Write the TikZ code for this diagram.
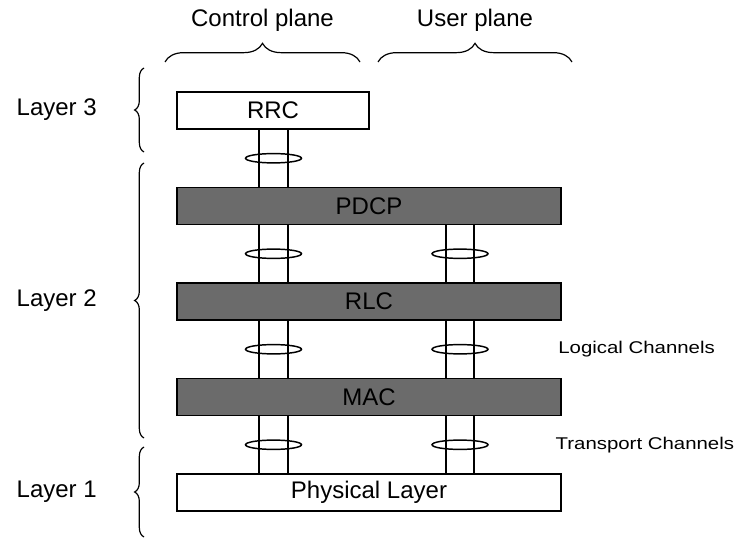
\documentclass[tikz,border=0pt]{standalone}
\usepackage{fontspec}
\setmainfont{Liberation Sans}
\newfontfamily\chanfont[FakeStretch=1.2]{Liberation Sans}
\usetikzlibrary{positioning,calc,shapes.geometric,decorations.pathreplacing}

\begin{document}
\begin{tikzpicture}[x=0.75pt, y=-0.75pt,
    lbl/.style={font=\fontsize{18}{20}\selectfont},
    layerbox/.style={draw, line width=1.2pt, minimum width=288pt, minimum height=28pt, inner sep=0pt, lbl},
    darkbox/.style={layerbox, fill=black!58},
    chan/.style={draw, ellipse, line width=1.1pt, minimum width=42pt, minimum height=7pt, inner sep=0pt},
    chanlbl/.style={inner sep=0pt, font=\chanfont\fontsize{12.75}{14}\selectfont},
    brace/.style={decorate, decoration={brace, amplitude=#1}, line width=0.9pt}]
  \useasboundingbox (0,0) rectangle (742,538);

  % Protocol layers
  \node[layerbox, minimum width=144pt] (rrc) at (273,110.5) {RRC};
  \node[darkbox] (pdcp) at (369,206) {PDCP};
  \node[darkbox] (rlc) at (369,301.5) {RLC};
  \node[darkbox] (mac) at (369,397) {MAC};
  \node[layerbox] (phy) at (369,492.5) {Physical Layer};

  % Pipe columns (control and user plane)
  \coordinate (cp) at (273.5,0);
  \coordinate (cpL) at (259,0);
  \coordinate (cpR) at (288,0);
  \coordinate (up) at (460,0);
  \coordinate (upL) at (446,0);
  \coordinate (upR) at (474,0);

  % Channels between layers
  \foreach \a/\b/\c in {rrc/pdcp/cp, pdcp/rlc/cp, rlc/mac/cp, mac/phy/cp,
                        pdcp/rlc/up, rlc/mac/up, mac/phy/up} {
    \draw[line width=1.1pt] (\c L |- \a.south) -- (\c L |- \b.north);
    \draw[line width=1.1pt] (\c R |- \a.south) -- (\c R |- \b.north);
    \node[chan] (\c-\a) at ($(\c |- \a.south)!0.5!(\c |- \b.north)$) {};
  }

  % Channel labels
  \node[chanlbl, anchor=west, right=52pt of up-rlc] (logical) {Logical Channels};
  \node[chanlbl, anchor=west, right=50pt of up-mac] (transport) {Transport Channels};

  % Plane braces
  \draw[brace=14pt] (165,62) -- (360,62)
    node[midway, yshift=31pt, lbl] (cplane) {Control plane};
  \draw[brace=14pt] (378,62) -- (572,62)
    node[midway, yshift=31pt, lbl] (uplane) {User plane};

  % Layer braces
  \draw[brace=7pt] (144,152) -- (144,68)
    node[midway, anchor=east, xshift=-35pt, inner sep=0pt, lbl] (layer3) {Layer 3};
  \draw[brace=7pt] (144,438) -- (144,163)
    node[midway, anchor=east, xshift=-35pt, inner sep=0pt, lbl] (layer2) {Layer 2};
  \draw[brace=7pt] (144,537) -- (144,447)
    node[midway, anchor=east, xshift=-35pt, inner sep=0pt, lbl] (layer1) {Layer 1};
\end{tikzpicture}
\end{document}
